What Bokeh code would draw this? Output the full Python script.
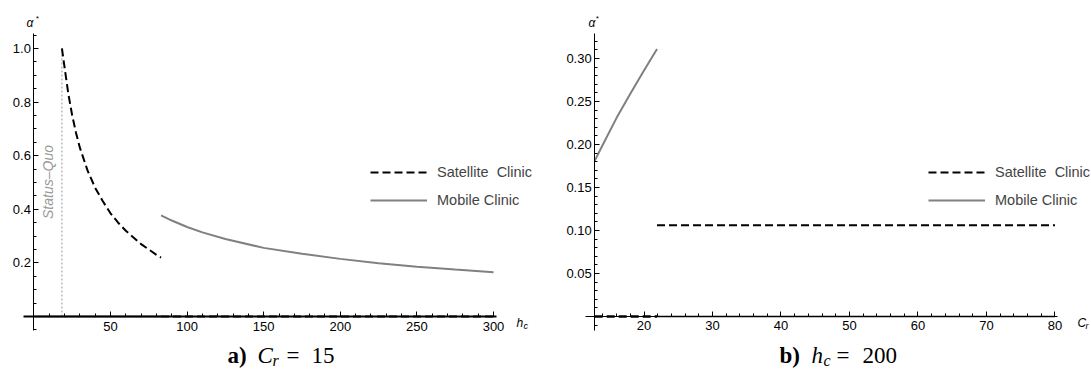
import numpy as np
from bokeh.plotting import figure
from bokeh.models import (Range1d, LinearAxis, FixedTicker, Label, Legend, LegendItem,
                          PrintfTickFormatter)
from bokeh.layouts import row
from bokeh.embed import file_html
from bokeh.resources import INLINE

# ---------------- data: panel a (C_r = 15) ----------------
hc_sat = [18.3, 20, 22.5, 25, 27.5, 30, 35, 40, 45, 50, 55, 60, 65, 70, 75, 80, 83]
alpha_sat_a = [1.0, 0.93, 0.83, 0.75, 0.685, 0.63, 0.545, 0.48, 0.43, 0.385, 0.35,
               0.32, 0.295, 0.27, 0.25, 0.23, 0.22]
hc_mob = [83, 90, 100, 110, 125, 150, 175, 200, 225, 250, 275, 300]
alpha_mob_a = [0.377, 0.358, 0.334, 0.314, 0.289, 0.256, 0.234, 0.215, 0.199, 0.186, 0.175, 0.165]
hc_sat_zero = [83, 300]
alpha_sat_zero_a = [0, 0]
hc_mob_zero = [0, 83]
alpha_mob_zero_a = [0, 0]
status_quo_hc = 18.3
status_quo_alpha = [0, 1.0]

xticks_a = [50, 100, 150, 200, 250, 300]
xminor_a = [v for v in range(10, 301, 10) if v % 50]
yticks_a = [0.2, 0.4, 0.6, 0.8, 1.0]
yminor_a = [round(-0.05 + 0.05 * i, 2) for i in range(23)
            if round(-0.05 + 0.05 * i, 2) not in (0.0, 0.2, 0.4, 0.6, 0.8, 1.0)]

# ---------------- data: panel b (h_c = 200) ----------------
cr_mob = [12.8, 14, 16, 18, 20, 21.9]
alpha_mob_b = [0.181, 0.200, 0.231, 0.259, 0.286, 0.311]
cr_sat = [21.9, 80]
alpha_sat_b = [0.106, 0.106]
cr_sat_zero = [12.8, 21.9]
alpha_sat_zero_b = [0, 0]
cr_mob_zero = [21.9, 80]
alpha_mob_zero_b = [0, 0]

xticks_b = [20, 30, 40, 50, 60, 70, 80]
xminor_b = [v for v in range(14, 81, 2) if v % 10]
yticks_b = [0.05, 0.10, 0.15, 0.20, 0.25, 0.30]
yminor_b = [round(-0.01 + 0.01 * i, 2) for i in range(34)
            if round(-0.01 + 0.01 * i, 2) not in (0.0, 0.05, 0.1, 0.15, 0.2, 0.25, 0.3)]

SANS = "Liberation Sans"
SERIF = "Liberation Serif"
GRAY = "#808080"
DASH = "8 4"
H = 369


def make_fig(width, xr, yr):
    p = figure(width=width, height=H, x_range=xr, y_range=yr,
               output_backend="svg", toolbar_location=None,
               x_axis_type=None, y_axis_type=None, min_border=0)
    p.outline_line_color = None
    p.background_fill_color = "white"
    p.border_fill_color = "white"
    return p


def add_axes(p, xloc, xbounds, ybounds, xt, xm, yt, ym, xwidth, yfmt):
    common = dict(major_tick_in=5, major_tick_out=0, minor_tick_in=3, minor_tick_out=0,
                  major_label_text_font=SANS, major_label_text_font_size="13px",
                  major_label_text_color="black", axis_line_color="black",
                  major_tick_line_color="black", minor_tick_line_color="black")
    xax = LinearAxis(fixed_location=0, bounds=xbounds,
                     ticker=FixedTicker(ticks=xt, minor_ticks=xm),
                     formatter=PrintfTickFormatter(format="%d"),
                     major_label_standoff=5, axis_line_width=xwidth, **common)
    p.add_layout(xax, "below")
    yax = LinearAxis(fixed_location=xloc, bounds=ybounds,
                     ticker=FixedTicker(ticks=yt, minor_ticks=ym),
                     formatter=PrintfTickFormatter(format=yfmt),
                     major_label_standoff=3, **common)
    p.add_layout(yax, "left")


class Conv:
    """page pixel -> data coordinates for a figure whose frame fills the figure"""
    def __init__(self, left, width, xr, yr):
        self.l, self.w, self.xr, self.yr = left, width, xr, yr

    def x(self, sx):
        return self.xr.start + (sx - self.l) / self.w * (self.xr.end - self.xr.start)

    def y(self, sy):
        return self.yr.start + (H - sy) / H * (self.yr.end - self.yr.start)


def lab(p, c, sx, sy, text, size, font=SANS, style="normal", color="black",
        align="left", baseline="alphabetic", angle=0.0):
    p.add_layout(Label(x=c.x(sx), y=c.y(sy), text=text, text_font=font,
                       text_font_size=size, text_font_style=style, text_color=color,
                       text_align=align, text_baseline=baseline, angle=angle))


def add_legend(p, r_sat, r_mob, locx):
    leg = Legend(items=[LegendItem(label="Satellite  Clinic", renderers=[r_sat]),
                        LegendItem(label="Mobile Clinic", renderers=[r_mob])],
                 location=(locx, 159), glyph_width=57, glyph_height=20,
                 label_height=20, label_standoff=10, spacing=8, padding=0, margin=0,
                 background_fill_alpha=0, border_line_color=None,
                 label_text_font=SANS, label_text_font_size="14.5px")
    p.add_layout(leg)


def caption(p, c, pieces):
    for sx, sy, text, size, style in pieces:
        lab(p, c, sx, sy, text, size, font=SERIF, style=style, baseline="middle")


# ---------------- panel a ----------------
xa = Range1d(-21.80, 333.94)
ya = Range1d(-0.1977, 1.1789)
p1 = make_fig(545, xa, ya)
ca = Conv(0, 545, xa, ya)

p1.line([status_quo_hc, status_quo_hc], status_quo_alpha, line_color="#999999",
        line_width=1, line_dash="2 2")
p1.line(hc_mob_zero, alpha_mob_zero_a, line_color=GRAY, line_width=2)
p1.line(hc_sat_zero, alpha_sat_zero_a, line_color="black", line_width=2, line_dash=DASH)
r_sat_a = p1.line(hc_sat, alpha_sat_a, line_color="black", line_width=2, line_dash=DASH)
r_mob_a = p1.line(hc_mob, alpha_mob_a, line_color=GRAY, line_width=2)
add_axes(p1, 0, (-6.79, 301.96), (-0.052, 1.056),
         xticks_a, xminor_a, yticks_a, yminor_a, 2, "%.1f")
add_legend(p1, r_sat_a, r_mob_a, 370)

lab(p1, ca, 26, 22.5, "α", "12px", style="italic")
lab(p1, ca, 35, 18, "*", "8px", style="italic")
lab(p1, ca, 516, 322, "h", "12px", style="italic")
lab(p1, ca, 523, 325, "c", "9px", style="italic")
lab(p1, ca, 47, 181.5, "Status–Quo", "14px", style="italic", color="#999999",
    align="center", baseline="middle", angle=np.pi / 2)
caption(p1, ca, [(227, 355, "a)", "23px", "bold"),
                 (257, 355, "C", "23px", "italic"),
                 (272, 360, "r", "16px", "italic"),
                 (286, 355, "=", "23px", "normal"),
                 (311, 355, "15", "23px", "normal")])

# ---------------- panel b ----------------
xb = Range1d(5.620, 85.33)
yb = Range1d(-0.06163, 0.36744)
p2 = make_fig(546, xb, yb)
cb = Conv(545, 546, xb, yb)

p2.line(cr_mob_zero, alpha_mob_zero_b, line_color=GRAY, line_width=2)
p2.line(cr_sat_zero, alpha_sat_zero_b, line_color="black", line_width=2.5, line_dash=DASH)
r_sat_b = p2.line(cr_sat, alpha_sat_b, line_color="black", line_width=2, line_dash=DASH)
r_mob_b = p2.line(cr_mob, alpha_mob_b, line_color=GRAY, line_width=2)
add_axes(p2, cr_mob[0], (11.46, 80.36), (-0.0163, 0.3291),
         xticks_b, xminor_b, yticks_b, yminor_b, 1, "%.2f")
add_legend(p2, r_sat_b, r_mob_b, 383)

lab(p2, cb, 588, 22.5, "α", "12px", style="italic")
lab(p2, cb, 595, 18, "*", "8px", style="italic")
lab(p2, cb, 1077, 322, "C", "12px", style="italic")
lab(p2, cb, 1085, 325, "r", "9px", style="italic")
caption(p2, cb, [(779, 355, "b)", "23px", "bold"),
                 (811, 355, "h", "23px", "italic"),
                 (823, 360, "c", "16px", "italic"),
                 (836, 355, "=", "23px", "normal"),
                 (862, 355, "200", "23px", "normal")])

layout = row(p1, p2)
open("out.html", "w").write(file_html(layout, INLINE))
